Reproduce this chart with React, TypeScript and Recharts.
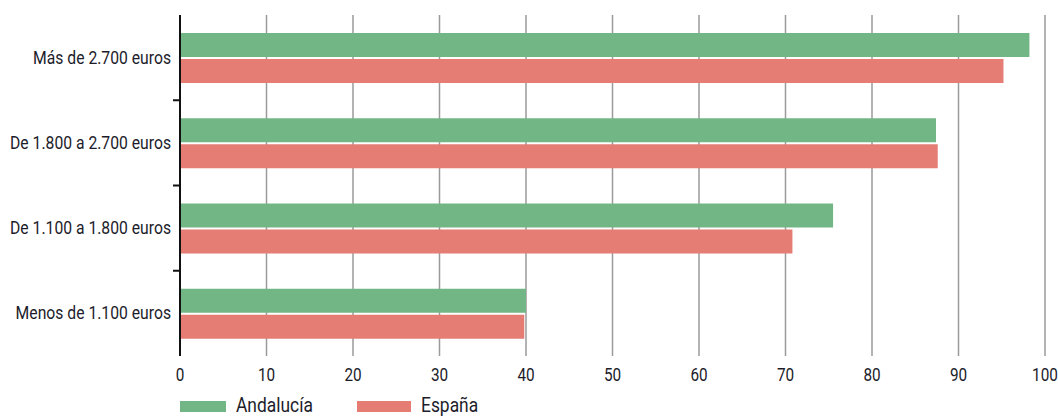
import { BarChart, Bar, XAxis, YAxis, CartesianGrid } from "recharts";

const categories = [
  "Más de 2.700 euros",
  "De 1.800 a 2.700 euros",
  "De 1.100 a 1.800 euros",
  "Menos de 1.100 euros",
];
const andalucia = [98.2, 87.4, 75.5, 40.0];
const espana = [95.2, 87.6, 70.8, 39.8];
const xTicks = [0, 10, 20, 30, 40, 50, 60, 70, 80, 90, 100];

const GREEN = "#72b685";
const RED = "#e57d74";
const TEXT = "#1c1c2a";
const FONT = "Roboto, sans-serif";
const SQUEEZE = 0.85;

const data = categories.map((c, i) => ({
  name: c,
  Andalucía: andalucia[i],
  España: espana[i],
}));

const BAND = 341 / categories.length;

// condensed look: Roboto squeezed horizontally
function YTick(props: any) {
  const { x, y, payload, index } = props;
  return (
    <g>
      <text
        transform={`translate(${x - 1},${y + 6}) scale(${SQUEEZE},1)`}
        textAnchor="end"
        fontSize={18.5}
        fill={TEXT}
        fontFamily={FONT}
      >
        {payload.value}
      </text>
      {index < categories.length - 1 && (
        <line x1={x + 1} x2={x + 8} y1={y + BAND / 2} y2={y + BAND / 2} stroke="#111" strokeWidth={2} />
      )}
    </g>
  );
}

function XTick(props: any) {
  const { x, y, payload } = props;
  return (
    <text
      transform={`translate(${x},${y + 17}) scale(${SQUEEZE},1)`}
      textAnchor="middle"
      fontSize={18}
      fill={TEXT}
      fontFamily={FONT}
    >
      {payload.value}
    </text>
  );
}

const legendText = {
  position: "absolute" as const,
  top: 0,
  lineHeight: "22px",
  whiteSpace: "nowrap" as const,
  transform: "scaleX(0.87)",
  transformOrigin: "left center",
};

export default function App() {
  return (
    <div style={{ position: "absolute", left: 0, top: 0, width: 1058, height: 417, background: "#fff" }}>
      <BarChart
        width={1058}
        height={417}
        data={data}
        layout="vertical"
        margin={{ top: 15, right: 13, bottom: 31, left: 0 }}
        barSize={24}
        barGap={2}
      >
        <CartesianGrid horizontal={false} stroke="#9a9a9a" strokeWidth={1.5} />
        <XAxis
          type="number"
          domain={[0, 100]}
          ticks={xTicks}
          axisLine={false}
          tickLine={false}
          height={30}
          tick={<XTick />}
          interval={0}
        />
        <YAxis
          type="category"
          dataKey="name"
          width={180}
          axisLine={{ stroke: "#111", strokeWidth: 2 }}
          tickLine={false}
          tick={<YTick />}
          interval={0}
        />
        <Bar dataKey="Andalucía" fill={GREEN} isAnimationActive={false} />
        <Bar dataKey="España" fill={RED} isAnimationActive={false} />
      </BarChart>
      <div
        style={{
          position: "absolute",
          left: 180,
          top: 394,
          height: 22,
          fontFamily: FONT,
          fontSize: 20,
          color: TEXT,
        }}
      >
        <span style={{ position: "absolute", left: 0, top: 7, width: 46, height: 11, background: GREEN }} />
        <span style={{ ...legendText, left: 56 }}>Andalucía</span>
        <span style={{ position: "absolute", left: 177, top: 7, width: 54, height: 11, background: RED }} />
        <span style={{ ...legendText, left: 241 }}>España</span>
      </div>
    </div>
  );
}
